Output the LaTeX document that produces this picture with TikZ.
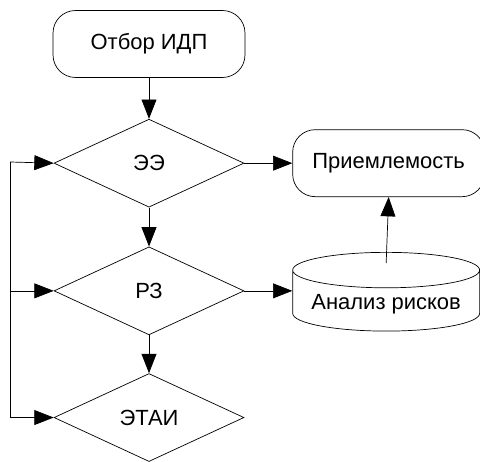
\documentclass[tikz,border=0pt]{standalone}
\usepackage{fontspec}
\setmainfont{Liberation Sans}
\usetikzlibrary{positioning,shapes.geometric,arrows.meta}
\tikzset{
line width=0.9pt, % all lines a bit heavy
>={Triangle[length=11pt,width=8.5pt]},
my box/.style={draw,rectangle,rounded corners=4.5mm,minimum width=3.84cm,minimum height=1.34cm},
my check/.style={draw,diamond,inner sep=0pt,minimum width=3.8cm,minimum height=1.76cm},
my store/.style={draw,cylinder,shape border rotate=90,aspect=0.22,minimum width=3.74cm,minimum height=1.52cm},
}
\begin{document}
\begin{tikzpicture}[x=0.02cm,y=-0.02cm,font=\fontsize{12.5}{14}\selectfont]
\useasboundingbox (0,0) rectangle (480,462);
\node[my box] (sel) at (149,44) {Отбор ИДП};
\node[my check,below=0.82cm of sel] (ee) {ЭЭ};
\node[my check,below=0.78cm of ee] (rz) {РЗ};
\node[my check,below=0.76cm of rz] (etai) {ЭТАИ};
\node[my box,right=0.96cm of ee] (pr) {Приемлемость};
\node[my store,right=0.96cm of rz,yshift=-0.26cm] (ar) {Анализ рисков};
\coordinate (rail) at (10,162);
\draw[->] (sel) -- (ee);
\draw[->] (ee) -- (rz);
\draw[->] (rz) -- (etai);
\draw[->] (ee) -- (pr);
\draw[->] (rz.east) -- (rz.east -| ar.west);
\draw[->] ([yshift=-0.22cm]ar.north) -- (pr.south);
\draw[->] (rail) -- (ee.west);
\draw[->] (rail) |- (etai.west);
\draw[->] (rail |- rz.west) -- (rz.west);
\end{tikzpicture}
\end{document}
